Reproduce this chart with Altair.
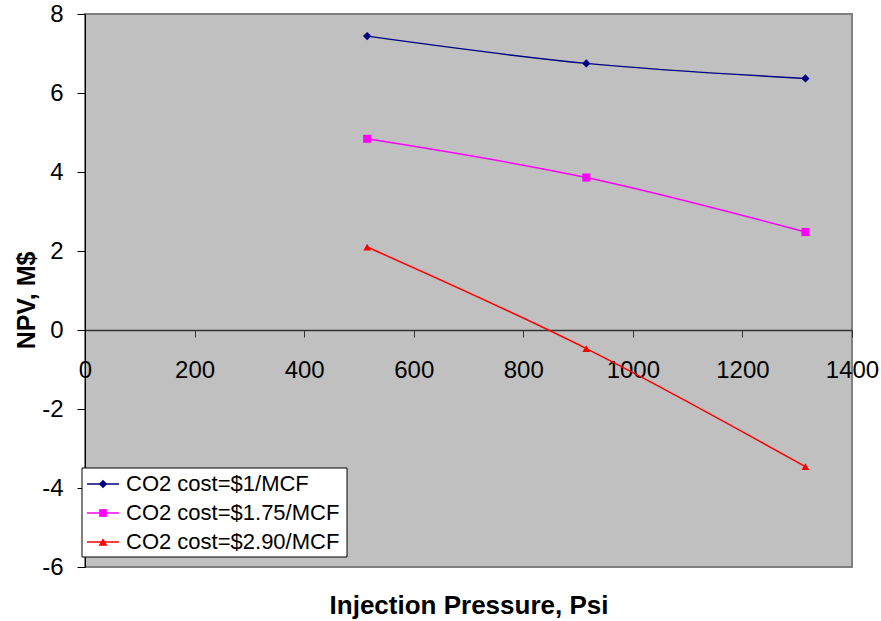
import altair as alt
import pandas as pd

# ---- data ----
pressure = [515, 915, 1315]
series_names = ["CO2 cost=$1/MCF", "CO2 cost=$1.75/MCF", "CO2 cost=$2.90/MCF"]
npv_1 = [7.44, 6.75, 6.37]
npv_175 = [4.84, 3.86, 2.48]
npv_290 = [2.10, -0.47, -3.46]
colors = ["#000080", "#FF00FF", "#FF0000"]
shapes = ["diamond", "square", "triangle-up"]
marker_sizes = [70, 60, 80]
x_ticks = [0, 200, 400, 600, 800, 1000, 1200, 1400]
y_ticks = [-6, -4, -2, 0, 2, 4, 6, 8]

rows = []
for name, vals in zip(series_names, [npv_1, npv_175, npv_290]):
    for p, v in zip(pressure, vals):
        rows.append({"series": name, "pressure": p, "npv": v})
df = pd.DataFrame(rows)

W, H = 767, 553
FONT = "Liberation Sans"

color_scale = alt.Scale(domain=series_names, range=colors)
shape_scale = alt.Scale(domain=series_names, range=shapes)
size_scale = alt.Scale(domain=series_names, range=marker_sizes)

x_enc = alt.X(
    "pressure:Q",
    scale=alt.Scale(domain=[0, 1400], nice=False),
    axis=alt.Axis(
        values=x_ticks, grid=False, offset=-(H - H * 8 / 14),
        labelExpr="'' + datum.value",
        domainColor="#333333", domainWidth=1.5, tickColor="#333333", tickSize=7,
        labelFontSize=24, labelFont=FONT, labelColor="black", labelPadding=21,
        labelFlush=False, labelOverlap=False,
        title="Injection Pressure, Psi", titleFont=FONT, titleFontSize=26,
        titleFontWeight="bold", titleColor="black", titleY=275,
        titleBaseline="middle",
    ),
)
y_enc = alt.Y(
    "npv:Q",
    scale=alt.Scale(domain=[-6, 8], nice=False),
    axis=alt.Axis(
        values=y_ticks, grid=False, domainColor="black", domainWidth=1,
        labelExpr="'' + datum.value",
        tickColor="black", tickSize=8, labelFontSize=24, labelFont=FONT,
        labelColor="black", labelPadding=14, labelFlush=False,
        title="NPV, M$", titleFont=FONT, titleFontSize=25, titleFontWeight="bold",
        titleColor="black", titleX=-59, titleY=286, titleAngle=270,
        titleBaseline="middle", titleAlign="center",
    ),
)

base = alt.Chart(df)
lines = base.mark_line(interpolate="monotone", strokeWidth=1.5).encode(
    x=x_enc, y=y_enc,
    color=alt.Color("series:N", scale=color_scale, legend=None),
    detail="series:N",
)
points = base.mark_point(filled=True, opacity=1).encode(
    x="pressure:Q", y="npv:Q",
    color=alt.Color("series:N", scale=color_scale, legend=None),
    shape=alt.Shape("series:N", scale=shape_scale, legend=None),
    size=alt.Size("series:N", scale=size_scale, legend=None),
)

# ---- legend (drawn as marks) ----
one = alt.Data(values=[{"k": 1}])
box = alt.Chart(one).mark_rect(fill="white", stroke="black", strokeWidth=1).encode(
    x=alt.value(-3), x2=alt.value(262), y=alt.value(454), y2=alt.value(543)
)
leg_layers = [box]
row_y = [470, 499, 528]
for name, col, shp, sz, yy in zip(series_names, colors, shapes, marker_sizes, row_y):
    d = alt.Data(values=[{"s": name}])
    leg_layers.append(
        alt.Chart(d).mark_rule(color=col, strokeWidth=1.5).encode(
            x=alt.value(2), x2=alt.value(34), y=alt.value(yy)
        )
    )
    leg_layers.append(
        alt.Chart(d).mark_point(filled=True, opacity=1, color=col, shape=shp, size=sz).encode(
            x=alt.value(18), y=alt.value(yy)
        )
    )
    leg_layers.append(
        alt.Chart(d).mark_text(align="left", baseline="middle", font=FONT, fontSize=22,
                               color="black").encode(
            x=alt.value(41), y=alt.value(yy), text="s:N"
        )
    )

chart = alt.layer(lines, points, *leg_layers).properties(
    width=W, height=H,
    autosize=alt.AutoSizeParams(type="none"),
    padding={"left": 85, "top": 14, "right": 29, "bottom": 54},
    background="white",
).configure_view(
    fill="#C0C0C0", stroke="#808080", strokeWidth=2
)

chart.save("out.html", embed_options={"renderer": "svg", "actions": False})
